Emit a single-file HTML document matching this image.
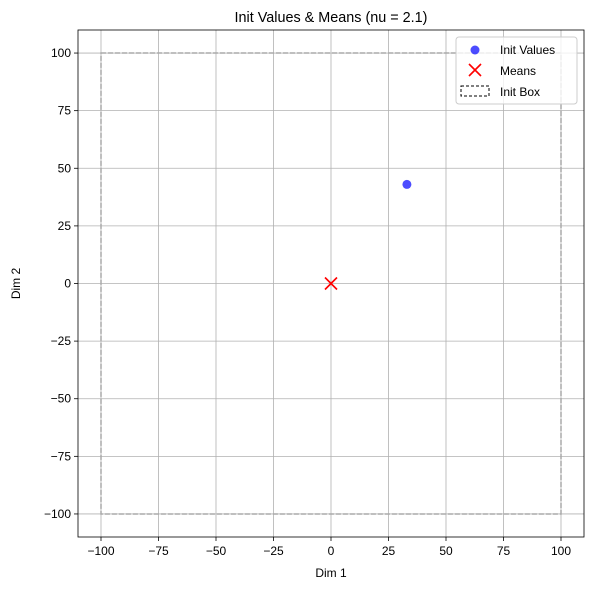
<!DOCTYPE html>
<html><head><meta charset="utf-8"><style>body{margin:0;background:#fff}svg{display:block;font-family:"Liberation Sans","DejaVu Sans",sans-serif}</style></head>
<body>
<svg id="chart" width="593" height="590"></svg>
<script>
const xTicks=[-100,-75,-50,-25,0,25,50,75,100];
const yTicks=[-100,-75,-50,-25,0,25,50,75,100];
const initX=[33];
const initY=[43];
const meanX=[0];
const meanY=[0];
const boxLo=[-100,-100];
const boxHi=[100,100];
const L=78,R=584,T=30,B=537,xmin=-110,xmax=110,ymin=-110,ymax=110;
const sx=v=>L+(v-xmin)/(xmax-xmin)*(R-L);
const sy=v=>B-(v-ymin)/(ymax-ymin)*(B-T);
const svg=document.getElementById('chart');
const NS='http://www.w3.org/2000/svg';
function mk(t,a,txt){const e=document.createElementNS(NS,t);for(const k in a)e.setAttribute(k,a[k]);if(txt!==undefined)e.textContent=txt;svg.appendChild(e);return e;}
let e;
xTicks.forEach(v=>{
e=mk('line',{x1:sx(v),x2:sx(v),y1:T,y2:B,stroke:'#b0b0b0','stroke-width':0.8});


e=mk('line',{x1:sx(v),x2:sx(v),y1:B,y2:B+4,stroke:'#000','stroke-width':0.8});


e=mk('text',{x:sx(v),y:B+18,'text-anchor':'middle','font-size':12},(v<0?'\u2212'+(-v):''+v));


});
yTicks.forEach(v=>{
e=mk('line',{x1:L,x2:R,y1:sy(v),y2:sy(v),stroke:'#b0b0b0','stroke-width':0.8});


e=mk('line',{x1:L-4,x2:L,y1:sy(v),y2:sy(v),stroke:'#000','stroke-width':0.8});


e=mk('text',{x:L-7,y:sy(v)+4,'text-anchor':'end','font-size':12},(v<0?'\u2212'+(-v):''+v));


});
e=mk('rect',{x:sx(boxLo[0]),y:sy(boxHi[1]),width:sx(boxHi[0])-sx(boxLo[0]),height:sy(boxLo[1])-sy(boxHi[1]),fill:'none',stroke:'#aaa','stroke-width':1.5,'stroke-dasharray':'5,2'});


initX.forEach((v,i)=>{
e=mk('circle',{cx:sx(v),cy:sy(initY[i]),r:4.5,fill:'rgba(0,0,255,0.7)'});


});
meanX.forEach((v,i)=>{
const cx=sx(v),cy=sy(meanY[i]);
e=mk('path',{d:`M${cx-6},${cy-6}L${cx+6},${cy+6}M${cx-6},${cy+6}L${cx+6},${cy-6}`,stroke:'red','stroke-width':1.6});


});
e=mk('rect',{x:L,y:T,width:R-L,height:B-T,fill:'none',stroke:'#000','stroke-width':0.8});


e=mk('text',{x:(L+R)/2,y:22,'text-anchor':'middle','font-size':14.4},'Init Values & Means (nu = 2.1)');


e=mk('text',{x:(L+R)/2,y:577,'text-anchor':'middle','font-size':12},'Dim 1');


e=mk('text',{x:20,y:(T+B)/2,'text-anchor':'middle','font-size':12,transform:`rotate(-90 20 ${(T+B)/2})`},'Dim 2');


e=mk('rect',{x:456,y:37,width:121,height:67,rx:3,fill:'rgba(255,255,255,0.8)',stroke:'#ccc','stroke-width':1});


e=mk('circle',{cx:475,cy:50,r:4.5,fill:'rgba(0,0,255,0.7)'});


e=mk('text',{x:500,y:54,'font-size':12},'Init Values');


e=mk('path',{d:'M469,64L481,76M469,76L481,64',stroke:'red','stroke-width':1.6});


e=mk('text',{x:500,y:75,'font-size':12},'Means');


e=mk('rect',{x:461,y:86,width:28,height:10,fill:'none',stroke:'#000','stroke-width':1,'stroke-dasharray':'3,2'});


e=mk('text',{x:500,y:96,'font-size':12},'Init Box');


</script>
</body></html>
